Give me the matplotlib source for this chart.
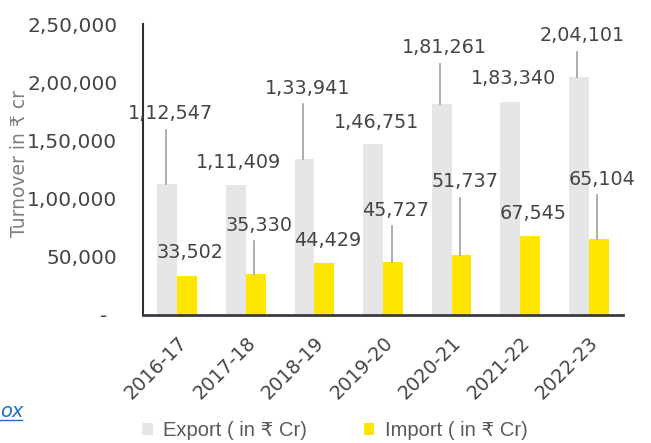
import matplotlib
matplotlib.use("Agg")
import matplotlib.pyplot as plt
from matplotlib.font_manager import FontProperties
from matplotlib.lines import Line2D
import numpy as np

# ---------------- data ----------------
years = ["2016-17", "2017-18", "2018-19", "2019-20", "2020-21", "2021-22", "2022-23"]
export_vals = [112547, 111409, 133941, 146751, 181261, 183340, 204101]
import_vals = [33502, 35330, 44429, 45727, 51737, 67545, 65104]
# data-label positions (value axis) as placed in the original chart
export_label_y = [172700, 131400, 195000, 165800, 229400, 203600, 239700]
import_label_y = [53300, 77300, 64400, 90200, 114300, 87600, 116800]
ytick_vals = [0, 50000, 100000, 150000, 200000, 250000]
ytick_labels = ["-\u2002", "50,000", "1,00,000", "1,50,000", "2,00,000", "2,50,000"]

def indian(n):
    s = str(n)
    if len(s) <= 3:
        return s
    head, tail = s[:-3], s[-3:]
    parts = []
    while len(head) > 2:
        parts.insert(0, head[-2:])
        head = head[:-2]
    if head:
        parts.insert(0, head)
    return ",".join(parts + [tail])

# ---------------- style ----------------
EXP_C = "#E7E6E6"
IMP_C = "#FFE600"
TXT_C = "#454545"
LEAD_C = "#A6A6A6"

fig = plt.figure(figsize=(6.51, 4.43), dpi=100)
ax = fig.add_axes([143/651, (443-315)/443, (623-143)/651, (315-24)/443])

x = np.arange(len(years))
w = 0.29
b1 = ax.bar(x - w/2, export_vals, width=w, color=EXP_C, label="Export ( in \u20b9 Cr)", zorder=2)
b2 = ax.bar(x + w/2, import_vals, width=w, color=IMP_C, label="Import ( in \u20b9 Cr)", zorder=2)

# data labels with leader lines (Excel style)
for i in range(len(years)):
    for off, val, ly, lx in ((-w/2, export_vals[i], export_label_y[i], -0.10),
                             (w/2, import_vals[i], import_label_y[i], 0.19)):
        ax.text(x[i] + lx, ly, indian(val), ha="center", va="center",
                fontsize=13.8, color=TXT_C, family="DejaVu Sans", zorder=4)
        if ly - val > 25000:
            ax.plot([x[i] + off - 0.02, x[i] + off - 0.02], [val, ly - 13800],
                    color=LEAD_C, lw=1.3, zorder=3)

ax.set_xlim(-0.5, len(years) - 0.5)
ax.set_ylim(0, 250000)
ax.set_yticks(ytick_vals)
ax.set_yticklabels(ytick_labels)
ax.tick_params(axis="y", length=0, pad=18.5, labelsize=14.5, labelcolor=TXT_C)
ax.set_xticks(x)
ax.set_xticklabels(years, rotation=45, ha="right", va="top", rotation_mode="anchor")
ax.tick_params(axis="x", length=0, pad=13, labelsize=13.8, labelcolor=TXT_C)

for s in ("top", "right"):
    ax.spines[s].set_visible(False)
ax.spines["left"].set_color("#2E2E38")
ax.spines["left"].set_linewidth(1.5)
ax.spines["bottom"].set_color("#3A3A44")
ax.spines["bottom"].set_linewidth(2.0)

ax.set_ylabel("Turnover in \u20b9 cr", fontsize=13.5, color="#7F7F7F", family="DejaVu Sans")
ax.yaxis.set_label_coords(-(143-29)/480, (315-163)/291)

# legend
leg_font = FontProperties(family=["Liberation Sans", "DejaVu Sans"], size=14.5)
fig.legend(handles=[b1, b2], loc="center left", bbox_to_anchor=(142/651, (443-431)/443),
           ncol=2, frameon=False, prop=leg_font, handlelength=0.54, handleheight=0.54,
           handletextpad=0.52, columnspacing=2.8, borderpad=0, borderaxespad=0,
           labelcolor="#595959")

# cropped hyperlink fragment at lower left
fig.text(0.5/651, (443-417)/443, "ox", fontsize=14, style="italic", color="#1F6FC5",
         family="DejaVu Sans", ha="left", va="baseline")
fig.add_artist(Line2D([0, 22/651], [(443-420)/443]*2, color="#1F6FC5", lw=1.0,
                      transform=fig.transFigure))

fig.savefig("out.png", dpi=100)
